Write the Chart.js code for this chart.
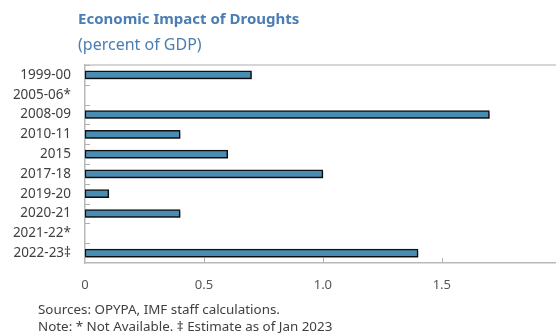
<!DOCTYPE html>
<html>
<head>
<meta charset="utf-8">
<script src="https://cdn.jsdelivr.net/npm/chart.js@4"></script>
<style>
  body { margin:0; width:556px; height:336px; background:#fff; font-family:"Noto Sans", sans-serif; position:relative; overflow:hidden; }
  #wrap { position:absolute; left:0; top:0; width:556px; height:336px; }
  .title { position:absolute; left:78px; top:8px; font-size:15px; font-weight:bold; color:#4a7db3; }
  .sub { position:absolute; left:78px; top:33px; font-size:16px; color:#4a7db3; }
  .note { position:absolute; left:38px; font-size:13.4px; color:#404040; white-space:nowrap; }
</style>
</head>
<body>
<div id="wrap"><canvas id="chart"></canvas></div>
<div class="title">Economic Impact of Droughts</div>
<div class="sub">(percent of GDP)</div>
<div class="note" style="top:300px">Sources: OPYPA, IMF staff calculations.</div>
<div class="note" style="top:317px">Note: * Not Available. ‡ Estimate as of Jan 2023</div>
<script>
const categories=['1999-00','2005-06*','2008-09','2010-11','2015','2017-18','2019-20','2020-21','2021-22*','2022-23‡'];
const impact=[0.7, null, 1.7, 0.4, 0.6, 1.0, 0.1, 0.4, null, 1.4];
const xTicks=[0, 0.5, 1, 1.5];

const ctx=document.querySelector("#chart").getContext('2d');

// inner tick marks, top border line
const axisMarks={
    id:'axisMarks',
    afterDraw(c){
        const g=c.ctx, a=c.chartArea, x=c.scales.x, y=c.scales.y;
        g.save();
        g.strokeStyle='#c8c8c8';
        g.lineWidth=1.5;
        g.beginPath();
        g.moveTo(a.left, a.top); g.lineTo(a.right, a.top);
        g.stroke();
        g.lineWidth=1;
        g.strokeStyle='#b0b0b0';
        g.beginPath();
        for(let i=0;i<categories.length;i++){
            const py=Math.round(y.getPixelForValue(i-0.5))+0.5;
            g.moveTo(a.left, py); g.lineTo(a.left+5, py);
        }
        xTicks.slice(1).forEach(v=>{
            const px=Math.round(x.getPixelForValue(v))+0.5;
            g.moveTo(px, a.bottom); g.lineTo(px, a.bottom-5);
        });
        g.stroke();
        g.restore();
    }
};

const barShadow={
    id:'barShadow',
    beforeDatasetDraw(c){
        const g=c.ctx;
        g.save();
        g.shadowColor='rgba(0,0,0,0.35)';
        g.shadowOffsetX=1;
        g.shadowOffsetY=2;
        g.shadowBlur=1;
    },
    afterDatasetDraw(c){ c.ctx.restore(); }
};

new Chart(ctx, {
    type:'bar',
    data:{
        labels:categories,
        datasets:[{
            data:impact,
            backgroundColor:'#4a8db3',
            borderColor:'#111',
            borderWidth:1.5,
            borderSkipped:false,
            barThickness:8
        }]
    },
    plugins:[axisMarks, barShadow],
    options:{
        indexAxis:'y',
        responsive:true,
        maintainAspectRatio:false,
        animation:false,
        layout:{padding:{top:65, right:0, left:0, bottom:0}},
        plugins:{legend:{display:false}, tooltip:{enabled:false}},
        scales:{
            x:{
                min:0, max:1.98,
                afterBuildTicks(s){ s.ticks=xTicks.map(v=>({value:v})); },
                afterFit(s){ s.height=73; },
                grid:{display:false, drawTicks:false},
                border:{display:true, color:'#b8b8b8', width:1.5},
                ticks:{padding:14, color:'#555', font:{family:'Noto Sans', size:13}}
            },
            y:{
                afterFit(s){ s.width=85; },
                grid:{display:false, drawTicks:false},
                border:{display:true, color:'#b8b8b8', width:1.5},
                ticks:{padding:14, color:'#404040', font:{family:'Noto Sans', size:13.5}, autoSkip:false}
            }
        }
    }
});
</script>
</body>
</html>
